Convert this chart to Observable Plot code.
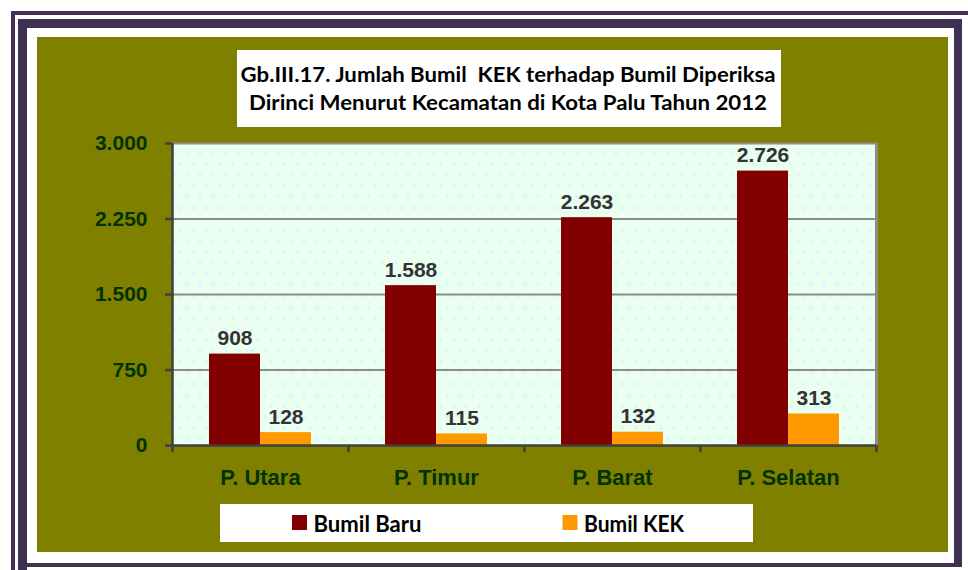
<!DOCTYPE html>
<html><head><meta charset="utf-8">
<script src="https://cdn.jsdelivr.net/npm/d3@7"></script>
<script src="https://cdn.jsdelivr.net/npm/@observablehq/plot@0.6"></script>
<style>
body{margin:0;background:#fff}
#wrap{position:relative;width:968px;height:570px;overflow:hidden;background:#fff}
.fr{position:absolute;box-sizing:border-box;border-style:solid;border-color:#403052}
#chart{position:absolute;left:37px;top:37px}
#overlay{position:absolute;left:0;top:0}
#overlay text{white-space:pre}
</style></head><body>
<div id="wrap">
 <div class="fr" style="left:11px;top:11px;width:962px;height:600px;border-width:4px"></div>
 <div class="fr" style="left:18px;top:19px;width:944px;height:548px;border-width:9px 8px 4px 9px"></div>
 <div style="position:absolute;left:18px;top:560px;width:9px;height:10px;background:#403052"></div>
 <div id="chart"></div>
 <svg id="overlay" width="968" height="570"></svg>
</div>
<script>
const titleLines = ["Gb.III.17. Jumlah Bumil  KEK terhadap Bumil Diperiksa", "Dirinci Menurut Kecamatan di Kota Palu Tahun 2012"];
const categories = ["P. Utara", "P. Timur", "P. Barat", "P. Selatan"];
const series = ["Bumil Baru", "Bumil KEK"];
const bumilBaru = [908, 1588, 2263, 2726];
const bumilKEK = [128, 115, 132, 313];
const yTicks = [0, 750, 1500, 2250, 3000];
const colors = ["#800000", "#FF9900"];

const fmt = d3.formatLocale({decimal: ",", thousands: ".", grouping: [3], currency: ["", ""]}).format(",.0f");
const baru = categories.map((c, i) => ({cat: c, series: series[0], value: bumilBaru[i]}));
const kek = categories.map((c, i) => ({cat: c, series: series[1], value: bumilKEK[i]}));
const last = categories[categories.length - 1];
const dark = "#404040";
const grid = "#8c8c8c";

const chart = Plot.plot({
  width: 911, height: 515,
  marginLeft: 135, marginRight: 72, marginTop: 106, marginBottom: 107,
  style: {background: "#808000", fontFamily: "'Liberation Sans', Arial, sans-serif", fontWeight: "bold", fontSize: "20px", overflow: "visible"},
  x: {domain: categories, padding: 0, label: null},
  y: {domain: [0, 3000], label: null},
  marks: [
    Plot.frame({fill: "url(#plotbg)"}),
    Plot.ruleY(yTicks.filter(d => d > 0), {stroke: grid, strokeWidth: 2}),
    Plot.ruleX([last], {y1: 0, y2: 3000, dx: 88, stroke: grid, strokeWidth: 3}),
    Plot.barY(baru, {x: "cat", y: "value", fill: colors[0], insetLeft: 37, insetRight: 88}),
    Plot.barY(kek, {x: "cat", y: "value", fill: colors[1], insetLeft: 88, insetRight: 37}),
    Plot.text(baru, {x: "cat", y: "value", text: d => fmt(d.value), dx: -25.5, dy: -9, lineAnchor: "bottom", fill: "#333333", fontSize: 21, fontWeight: "bold"}),
    Plot.text(kek, {x: "cat", y: "value", text: d => fmt(d.value), dx: 25.5, dy: -9, lineAnchor: "bottom", fill: "#333333", fontSize: 21, fontWeight: "bold"}),
    Plot.ruleY([0], {stroke: dark, strokeWidth: 2.5}),
    Plot.ruleX([categories[0]], {y1: 0, y2: 3000, dx: -88, stroke: dark, strokeWidth: 2.5}),
    Plot.ruleX(categories, {x: d => d, y1: 0, y2: -70, dx: -88, stroke: dark, strokeWidth: 2.5}),
    Plot.ruleX([last], {y1: 0, y2: -70, dx: 88, stroke: dark, strokeWidth: 2.5}),
    Plot.axisY(yTicks, {tickSize: 7, tickPadding: 18, tickFormat: fmt, stroke: dark, strokeWidth: 2.5, fill: "#003300", fontSize: 21, fontWeight: "bold", label: null}),
    Plot.axisX({tickSize: 0, tickPadding: 24, fill: "#003300", fontSize: 22, fontWeight: "bold", label: null})
  ]
});

const defs = d3.select(chart).insert("defs", ":first-child");
const pat = defs.append("pattern").attr("id", "plotbg").attr("patternUnits", "userSpaceOnUse").attr("width", 13).attr("height", 22);
pat.append("rect").attr("width", 13).attr("height", 22).attr("fill", "#ebfff1");
pat.append("path").attr("d", "M6.5,3L9,5.5L6.5,8L4,5.5Z M0,14L2.5,16.5L0,19L-2.5,16.5Z M13,14L15.5,16.5L13,19L10.5,16.5Z").attr("fill", "#d8f7fa");
document.getElementById("chart").appendChild(chart);

// Title and legend overlay
const ov = d3.select("#overlay");
ov.append("rect").attr("x", 237).attr("y", 50).attr("width", 544).attr("height", 77).attr("fill", "#fff");
const titleBase = [82, 110], titleLen = [535, 518];
titleLines.forEach((t, i) => {
  ov.append("text").attr("x", 508).attr("y", titleBase[i]).attr("text-anchor", "middle")
    .attr("font-family", "Lato, 'Open Sans', sans-serif").attr("font-weight", "bold").attr("font-size", 21)
    .attr("textLength", titleLen[i]).attr("lengthAdjust", "spacingAndGlyphs").attr("fill", "#000").text(t);
});
ov.append("rect").attr("x", 220).attr("y", 504).attr("width", 533).attr("height", 38).attr("fill", "#fff");
const legX = [292, 562.5], legLen = [108, 100];
series.forEach((s, i) => {
  ov.append("rect").attr("x", legX[i]).attr("y", 515).attr("width", 15).attr("height", 15).attr("fill", colors[i]);
  ov.append("text").attr("x", legX[i] + 21.5).attr("y", 532).attr("font-family", "Lato, 'Open Sans', sans-serif")
    .attr("font-weight", "bold").attr("font-size", 22).attr("textLength", legLen[i]).attr("lengthAdjust", "spacingAndGlyphs")
    .attr("fill", "#000").text(s);
});
</script>
</body></html>
